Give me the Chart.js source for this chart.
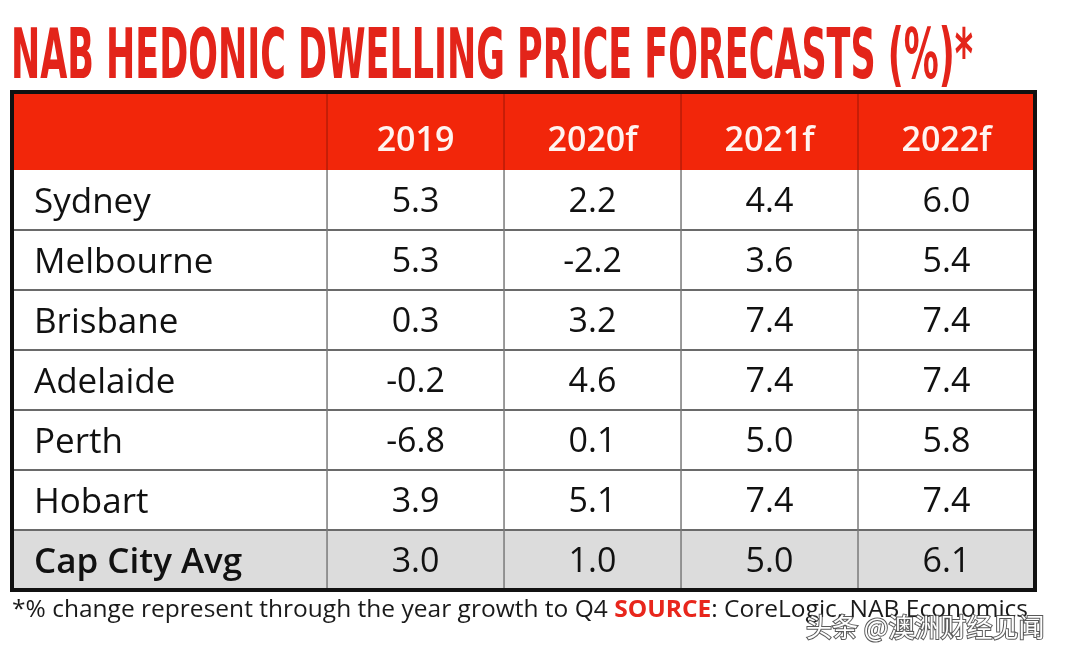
<!DOCTYPE html>
<html>
<head>
<meta charset="utf-8">
<script src="https://cdn.jsdelivr.net/npm/chart.js@4.4.1/dist/chart.umd.min.js"></script>
<style>
  html, body { margin: 0; padding: 0; background: #fff; }
  #wrap { width: 1074px; height: 658px; position: relative; }
</style>
</head>
<body>
<div id="wrap"><canvas id="myChart"></canvas></div>
<script>
// table data
const years = ['2019', '2020f', '2021f', '2022f'];
const cities = ['Sydney', 'Melbourne', 'Brisbane', 'Adelaide', 'Perth', 'Hobart', 'Cap City Avg'];
const y2019 = [5.3, 5.3, 0.3, -0.2, -6.8, 3.9, 3.0];
const y2020f = [2.2, -2.2, 3.2, 4.6, 0.1, 5.1, 1.0];
const y2021f = [4.4, 3.6, 7.4, 7.4, 5.0, 7.4, 5.0];
const y2022f = [6.0, 5.4, 7.4, 7.4, 5.8, 7.4, 6.1];
const seriesList = [y2019, y2020f, y2021f, y2022f];

const titleText = 'NAB HEDONIC DWELLING PRICE FORECASTS (%)*';
const noteText = '*% change represent through the year growth to Q4 ';
const sourceLabel = 'SOURCE';
const sourceText = ': CoreLogic, NAB Economics';
const watermark = '头条 @澳洲财经见闻';

// layout (in scale units): first column is wider, header row is taller
const labelUnits = 1.78;
const headerUnits = 1.3;

const headRed = '#f2260a';
const titleRed = '#e3241a';
const textFont = '"Open Sans", "Noto Sans", sans-serif';

const myChartElement = document.getElementById('myChart');

let myDatasets = seriesList.map((vals, j) => ({
  label: years[j],
  data: vals.map((v, i) => ({ x: j + 0.5, y: i + 0.5, v: v })),
  pointRadius: 0,
  showLine: false
}));

const tablePlugin = {
  id: 'tableCells',
  beforeDatasetsDraw(chart) {
    const ctx = chart.ctx;
    const xs = chart.scales.x, ys = chart.scales.y;
    const left = xs.getPixelForValue(-labelUnits), right = xs.getPixelForValue(years.length);
    const hTop = ys.getPixelForValue(-headerUnits), hBot = ys.getPixelForValue(0);
    const bottom = ys.getPixelForValue(cities.length);

    ctx.save();
    // header band
    ctx.fillStyle = headRed;
    ctx.fillRect(left, hTop, right - left, hBot - hTop);

    // last row (average) grey
    const avgTop = ys.getPixelForValue(cities.length - 1);
    ctx.fillStyle = '#dcdcdc';
    ctx.fillRect(left, avgTop, right - left, bottom - avgTop);

    // horizontal lines between rows
    ctx.strokeStyle = '#6a6a6a';
    ctx.lineWidth = 2;
    for (let i = 1; i < cities.length; i++) {
      const py = ys.getPixelForValue(i);
      ctx.beginPath();
      ctx.moveTo(left, py);
      ctx.lineTo(right, py);
      ctx.stroke();
    }

    // vertical lines
    for (let j = 0; j < years.length; j++) {
      const px = xs.getPixelForValue(j);
      ctx.lineWidth = 1.5;
      ctx.strokeStyle = '#b81c08';
      ctx.beginPath();
      ctx.moveTo(px, hTop);
      ctx.lineTo(px, hBot);
      ctx.stroke();
      ctx.strokeStyle = '#7a7a7a';
      ctx.beginPath();
      ctx.moveTo(px, hBot);
      ctx.lineTo(px, bottom);
      ctx.stroke();
    }

    // outer border
    ctx.strokeStyle = '#111';
    ctx.lineWidth = 4;
    ctx.strokeRect(left, hTop, right - left, bottom - hTop);
    ctx.restore();
  },
  afterDatasetsDraw(chart) {
    const ctx = chart.ctx;
    const xs = chart.scales.x, ys = chart.scales.y;
    ctx.save();

    // header labels
    ctx.fillStyle = '#fff4f0';
    ctx.font = '600 34px ' + textFont;
    ctx.textAlign = 'center';
    ctx.textBaseline = 'alphabetic';
    const hMid = ys.getPixelForValue(-headerUnits / 2);
    years.forEach((yr, j) => {
      ctx.fillText(yr, xs.getPixelForValue(j + 0.5), hMid + 20);
    });

    // row labels
    ctx.fillStyle = '#111';
    ctx.textAlign = 'left';
    const labelX = xs.getPixelForValue(-labelUnits) + 22;
    cities.forEach((c, i) => {
      ctx.font = (i === cities.length - 1 ? '600 ' : '400 ') + '35px ' + textFont;
      ctx.fillText(c, labelX, ys.getPixelForValue(i + 0.5) + 13);
    });

    // values at the point positions
    ctx.textAlign = 'center';
    ctx.font = '400 34px ' + textFont;
    chart.data.datasets.forEach((ds, j) => {
      const meta = chart.getDatasetMeta(j);
      meta.data.forEach((pt, i) => {
        ctx.fillText(ds.data[i].v.toFixed(1), pt.x, pt.y + 12);
      });
    });
    ctx.restore();
  },
  afterDraw(chart) {
    const ctx = chart.ctx;
    ctx.save();

    // title, squeezed to fit
    ctx.font = 'bold 60px "DejaVu Sans Condensed", "DejaVu Sans", sans-serif';
    ctx.textAlign = 'left';
    ctx.textBaseline = 'alphabetic';
    const tw = ctx.measureText(titleText).width;
    const sx = 962 / tw;
    const sy = 50 / (0.729 * 60);
    ctx.translate(11, 78);
    ctx.scale(sx, sy);
    ctx.fillStyle = titleRed;
    ctx.fillText(titleText, 0, 0);
    ctx.restore();

    // footnote
    ctx.save();
    ctx.textBaseline = 'alphabetic';
    ctx.textAlign = 'left';
    ctx.font = '400 24px ' + textFont;
    const w1 = ctx.measureText(noteText).width;
    ctx.font = '700 24px ' + textFont;
    const w2 = ctx.measureText(sourceLabel).width;
    ctx.font = '400 24px ' + textFont;
    const w3 = ctx.measureText(sourceText).width;
    const fs = 1016 / (w1 + w2 + w3);
    ctx.translate(12, 617);
    ctx.scale(fs, 1);
    ctx.fillStyle = '#1a1a1a';
    ctx.fillText(noteText, 0, 0);
    ctx.font = '700 24px ' + textFont;
    ctx.fillStyle = '#e8261c';
    ctx.fillText(sourceLabel, w1, 0);
    ctx.font = '400 24px ' + textFont;
    ctx.fillStyle = '#1a1a1a';
    ctx.fillText(sourceText, w1 + w2, 0);
    ctx.restore();

    // watermark
    ctx.save();
    ctx.font = '26px "Noto Sans CJK SC", sans-serif';
    ctx.textAlign = 'left';
    ctx.textBaseline = 'alphabetic';
    ctx.lineWidth = 2;
    ctx.strokeStyle = 'rgba(60,60,60,0.85)';
    ctx.fillStyle = '#ffffff';
    ctx.strokeText(watermark, 806, 637);
    ctx.fillText(watermark, 806, 637);
    ctx.restore();
  }
};

let myChart = new Chart(myChartElement, {
  type: 'scatter',
  data: { datasets: myDatasets },
  options: {
    responsive: true,
    maintainAspectRatio: false,
    animation: false,
    events: [],
    layout: { padding: { left: 12, right: 39, top: 92, bottom: 68 } },
    plugins: { legend: { display: false }, tooltip: { enabled: false }, title: { display: false } },
    scales: {
      x: { type: 'linear', min: -labelUnits, max: years.length, display: false },
      y: { type: 'linear', min: -headerUnits, max: cities.length, reverse: true, display: false }
    }
  },
  plugins: [tablePlugin]
});
</script>
</body>
</html>
